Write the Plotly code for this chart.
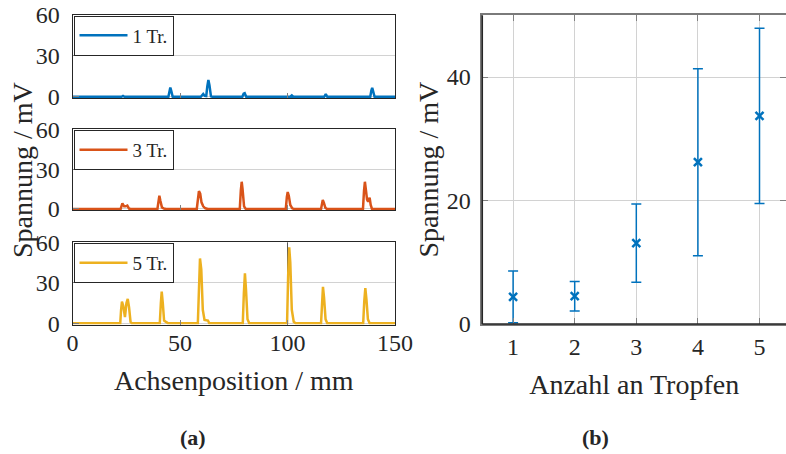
import plotly.graph_objects as go

# ---------------- data ----------------
# (a) signal along axis position, 1 / 3 / 5 drops
x_1tr = [0, 22.8, 23.5, 24.2, 44.6, 45.1, 45.5, 45.9, 46.6, 59.7, 60.3, 60.8, 61.5, 62.2, 62.7, 63.2, 63.7, 64.4, 65.0,
         79.0, 79.6, 80.1, 80.8, 101.3, 102.0, 102.7, 117.1, 117.8, 118.5, 138.5, 139.0, 139.4, 139.8, 140.5, 150]
y_1tr = [0, 0, 0.6, 0, 0, 4.5, 6.8, 4.5, 0, 0, 1.6, 2.0, 0.6, 0.5, 7.5, 12.3, 8.5, 0.3, 0,
         0, 2.2, 2.6, 0, 0, 1.0, 0, 0, 2.0, 0, 0, 4.5, 6.6, 4.2, 0, 0]

x_3tr = [0, 22.4, 23.2, 24.0, 24.7, 25.5, 26.3, 27.0,
         39.5, 40.0, 40.4, 40.9, 41.6, 42.5, 43.5,
         57.8, 58.3, 58.8, 59.4, 60.0, 60.8, 61.8, 63.0,
         77.8, 78.3, 78.7, 79.1, 79.8, 80.6,
         99.2, 99.7, 100.1, 100.6, 101.3, 102.2, 103.0,
         115.6, 116.0, 116.4, 116.9, 117.6, 118.4,
         135.1, 135.6, 136.0, 136.5, 137.0, 137.5, 138.2, 138.7, 139.3, 150]
y_3tr = [0, 0, 4.3, 2.0, 2.0, 2.6, 0.3, 0,
         0, 6, 10, 6, 1.2, 0.3, 0,
         0, 9, 13.5, 11.5, 5, 2, 0.5, 0,
         0, 14, 20.5, 15, 2, 0,
         0, 9, 12.8, 10, 3, 0.5, 0,
         0, 4.5, 6.8, 4.8, 1, 0,
         0, 14, 20.5, 14, 7, 5.5, 8.5, 3, 0, 0]

x_5tr = [0, 22.2, 22.6, 23.0, 23.6, 24.4, 25.1, 25.7, 26.3, 27.0, 27.6,
         40.6, 41.1, 41.5, 42.0, 42.6, 43.5, 44.5,
         58.3, 58.8, 59.3, 59.9, 60.6, 61.4, 62.3, 63.0, 63.6,
         79.2, 79.7, 80.2, 80.7, 81.4, 82.2,
         99.8, 100.3, 100.8, 101.3, 102.0, 102.9, 103.8,
         115.6, 116.0, 116.5, 117.0, 117.7, 118.5,
         135.2, 135.7, 136.2, 136.7, 137.4, 138.2, 150]
y_5tr = [0, 0, 10, 16, 13, 4.5, 15, 18, 12, 1, 0,
         0, 15, 23.4, 15, 2, 1, 0,
         0, 30, 48, 40, 10, 2.5, 2, 2, 0,
         0, 22, 37, 25, 3, 0,
         0, 35, 56.3, 45, 10, 1, 0,
         0, 16, 27, 19, 3, 0,
         0, 16, 26, 18, 3, 0, 0]

# (b) mean voltage vs number of drops
drops = [1, 2, 3, 4, 5]
mean_mv = [4.4, 4.5, 13.1, 26.2, 33.7]
err_mv = [4.2, 2.4, 6.35, 15.15, 14.2]

left_x_ticks = [0, 50, 100, 150]
left_y_ticks = [0, 30, 60]
right_y_ticks = [0, 20, 40]

# ---------------- style ----------------
FONT = "Liberation Serif"
W, H = 786, 454
BLUE, ORANGE, YELLOW = "#0072BD", "#D95319", "#EDB120"
AX = "#262626"
GRID = "#d2d2d2"
TICKC = "#808080"


def fx(p):
    return p / W


def fy(p):
    return 1 - p / H


left_dom = [fx(72.5), fx(395)]
p1_dom = [fy(98.1), fy(15)]
p2_dom = [fy(210.3), fy(129.3)]
p3_dom = [fy(324.6), fy(242.3)]

fig = go.Figure()
fig.add_trace(go.Scatter(x=x_1tr, y=y_1tr, mode="lines", name="1 Tr.",
                         line=dict(color=BLUE, width=2.5), xaxis="x", yaxis="y", legend="legend"))
fig.add_trace(go.Scatter(x=x_3tr, y=y_3tr, mode="lines", name="3 Tr.",
                         line=dict(color=ORANGE, width=2.5), xaxis="x2", yaxis="y2", legend="legend2"))
fig.add_trace(go.Scatter(x=x_5tr, y=y_5tr, mode="lines", name="5 Tr.",
                         line=dict(color=YELLOW, width=2.5), xaxis="x3", yaxis="y3", legend="legend3"))
fig.add_trace(go.Scatter(x=drops, y=mean_mv, mode="markers", showlegend=False,
                         marker=dict(symbol="x-thin", size=8, color=BLUE, line=dict(width=2.5, color=BLUE)),
                         error_y=dict(type="data", array=err_mv, color=BLUE, thickness=1.5, width=5),
                         xaxis="x4", yaxis="y4"))

tickfont = dict(family=FONT, size=24, color=AX)
titlefont = dict(family=FONT, size=28, color=AX)


def left_x(anchor, labels):
    return dict(domain=left_dom, anchor=anchor, range=[0, 150], tickvals=left_x_ticks,
                showticklabels=labels, ticks="inside", ticklen=5, tickcolor=TICKC,
                showgrid=False, zeroline=False, showline=True, linecolor=AX, linewidth=1,
                mirror=True, tickfont=tickfont, ticklabelstandoff=-3, automargin=False,
                ticklabeloverflow="allow")


def left_y(anchor, dom):
    return dict(domain=dom, anchor=anchor, range=[-1, 60], tickvals=left_y_ticks,
                ticks="inside", ticklen=6, tickcolor=TICKC, showgrid=True, gridcolor=GRID,
                zeroline=False, showline=True, linecolor=AX, linewidth=1, mirror=True,
                tickfont=tickfont, ticklabelstandoff=7, automargin=False,
                ticklabeloverflow="allow")


legend_common = dict(xanchor="left", yanchor="top", bgcolor="white", bordercolor=AX,
                     borderwidth=1, font=dict(family=FONT, size=19, color=AX),
                     itemwidth=48)

fig.update_layout(
    template="none",
    width=W, height=H, margin=dict(l=0, r=0, t=0, b=0, autoexpand=False),
    paper_bgcolor="white", plot_bgcolor="white",
    font=dict(family=FONT, color=AX),
    xaxis=left_x("y", False), yaxis=left_y("x", p1_dom),
    xaxis2=left_x("y2", False), yaxis2=left_y("x2", p2_dom),
    xaxis3=dict(left_x("y3", True),
                title=dict(text="Achsenposition / mm", font=titlefont, standoff=14)),
    yaxis3=left_y("x3", p3_dom),
    xaxis4=dict(domain=[fx(482.3), 1.0], anchor="y4", range=[0.5, 5.43], tickvals=drops,
                ticks="inside", ticklen=6, tickcolor=TICKC, showgrid=True, gridcolor=GRID,
                zeroline=False, showline=True, linecolor="#7a7a7a", linewidth=1.5, mirror="ticks",
                tickfont=tickfont, ticklabelstandoff=0, automargin=False,
                title=dict(text="Anzahl an Tropfen", font=titlefont, standoff=16)),
    yaxis4=dict(domain=[fy(324), fy(15.3)], anchor="x4", range=[0, 50], tickvals=right_y_ticks,
                ticks="inside", ticklen=6, tickcolor=TICKC, showgrid=True, gridcolor=GRID,
                zeroline=False, showline=True, linecolor="#7a7a7a", linewidth=1.5, mirror="ticks",
                tickfont=tickfont, ticklabelstandoff=5, automargin=False,
                title=dict(text="Spannung / mV", font=titlefont, standoff=0)),
    legend=dict(legend_common, x=fx(73.5), y=fy(15.5)),
    legend2=dict(legend_common, x=fx(73.5), y=fy(129.8)),
    legend3=dict(legend_common, x=fx(73.5), y=fy(242.8)),
    showlegend=True,
)

# black left/bottom axis lines of panel (b); top/right stay grey
fig.add_shape(type="line", xref="x4 domain", yref="y4 domain", x0=0, x1=0, y0=0, y1=1,
              line=dict(color=AX, width=1.5), layer="above")
fig.add_shape(type="line", xref="x4 domain", yref="y4 domain", x0=0, x1=1, y0=0, y1=0,
              line=dict(color=AX, width=1.5), layer="above")
# thin grey line at 100 mm in the lowest panel
fig.add_shape(type="line", xref="x3", yref="y3 domain", x0=100, x1=100, y0=0, y1=1,
              line=dict(color="#555555", width=1), layer="below")

fig.add_annotation(text="Spannung / mV", textangle=-90, x=fx(22), y=fy(170), xref="paper", yref="paper",
                   xanchor="center", yanchor="middle", showarrow=False, font=titlefont)
fig.add_annotation(text="<b>(a)</b>", x=fx(193), y=fy(437), xref="paper", yref="paper",
                   xanchor="center", yanchor="middle", showarrow=False, font=dict(family=FONT, size=22, color=AX))
fig.add_annotation(text="<b>(b)</b>", x=fx(595), y=fy(437), xref="paper", yref="paper",
                   xanchor="center", yanchor="middle", showarrow=False, font=dict(family=FONT, size=22, color=AX))

# remove the browser's default 8px page margin so the figure fills the window
fig.write_html("out.html", config={"displayModeBar": False},
               post_script="document.body.style.margin='0';")
